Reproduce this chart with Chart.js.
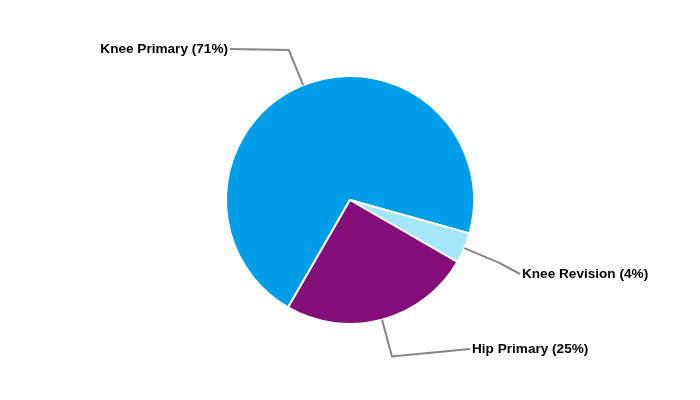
<!DOCTYPE html>
<html>
<head>
<meta charset="utf-8">
<script src="https://cdn.jsdelivr.net/npm/chart.js@4"></script>
<style>
  html, body { margin: 0; padding: 0; background: #fff; }
  #wrap { width: 700px; height: 400px; }
</style>
</head>
<body>
<div id="wrap"><canvas id="pie"></canvas></div>
<script>
const categories = ["Knee Primary", "Knee Revision", "Hip Primary"];
const shares = [71, 4, 25];
const colours = ["#009de8", "#a6e6fb", "#840f7a"];

// where each label text sits (anchor point at the end of the leader line)
const labelAnchors = [
  { x: 230, y: 49, align: "right" },
  { x: 520, y: 274, align: "left" },
  { x: 470, y: 349, align: "left" },
];

const leaderLines = {
  id: "leaderLines",
  afterDatasetsDraw(chart) {
    const ctx = chart.ctx;
    const arcs = chart.getDatasetMeta(0).data;
    ctx.save();
    arcs.forEach((arc, i) => {
      const p = arc.getProps(["x", "y", "startAngle", "endAngle", "outerRadius"], true);
      const mid = (p.startAngle + p.endAngle) / 2;
      const x0 = p.x + Math.cos(mid) * p.outerRadius;
      const y0 = p.y + Math.sin(mid) * p.outerRadius;
      const x1 = p.x + Math.cos(mid) * (p.outerRadius + 38);
      const y1 = p.y + Math.sin(mid) * (p.outerRadius + 38);
      const a = labelAnchors[i];

      ctx.strokeStyle = "#858585";
      ctx.lineWidth = 2;
      ctx.beginPath();
      ctx.moveTo(x0, y0);
      ctx.lineTo(x1, y1);
      ctx.lineTo(a.x, a.y);
      ctx.stroke();

      ctx.fillStyle = "#000";
      ctx.font = "bold 13.6px 'Liberation Sans', Arial, sans-serif";
      ctx.textBaseline = "middle";
      ctx.textAlign = a.align;
      const txt = categories[i] + " (" + shares[i] + "%)";
      ctx.fillText(txt, a.align === "right" ? a.x - 2 : a.x + 2, a.y);
    });
    ctx.restore();
  },
};

const chartConfig = {
  type: "pie",
  data: {
    labels: categories,
    datasets: [
      {
        data: shares,
        backgroundColor: colours,
        borderColor: "#ffffff",
        borderWidth: 2,
      },
    ],
  },
  options: {
    responsive: true,
    maintainAspectRatio: false,
    animation: false,
    rotation: 210,
    layout: { padding: { top: 75, bottom: 75 } },
    plugins: {
      legend: { display: false },
      tooltip: { enabled: false },
    },
  },
  plugins: [leaderLines],
};

const chart = new Chart(document.querySelector("#pie"), chartConfig);
</script>
</body>
</html>
